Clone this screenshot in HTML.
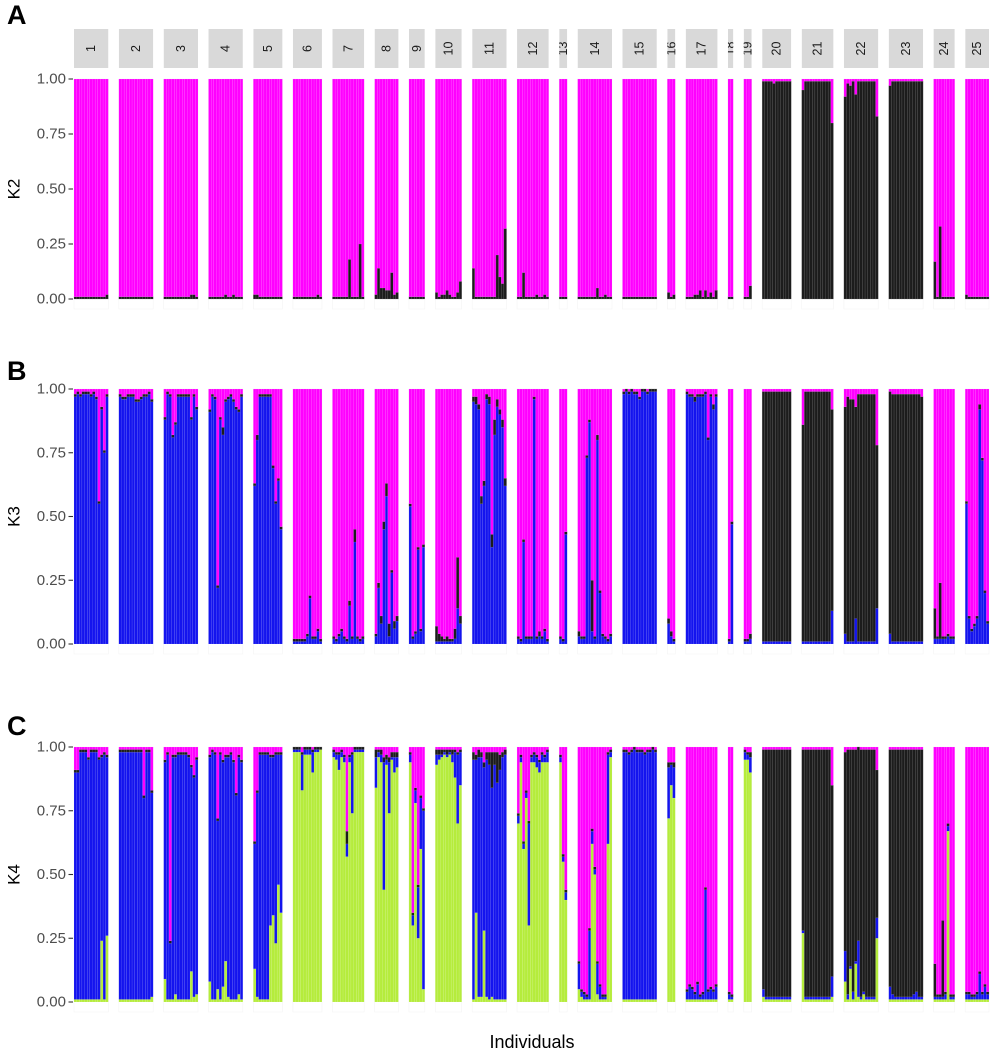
<!DOCTYPE html>
<html><head><meta charset="utf-8">
<style>
html,body{margin:0;padding:0;background:#fff;}
svg{display:block;font-family:"Liberation Sans",sans-serif;}
</style></head>
<body>
<svg id="chart" width="1000" height="1051" viewBox="0 0 1000 1051" xmlns="http://www.w3.org/2000/svg"></svg>
<script>
const pops = ["1","2","3","4","5","6","7","8","9","10","11","12","13","14","15","16","17","18","19","20","21","22","23","24","25"];
const tickValues = [0, 0.25, 0.5, 0.75, 1];
const tickLabels = ["0.00","0.25","0.50","0.75","1.00"];
const panelTitles = ["K2","K3","K4"];
const panelLetters = ["A","B","C"];

// K2: black ancestry (%) per individual, pink is the remainder
const k2Black = [
[1,1,1,1,1,1,1,1,1,1,1,1,2],[1,1,1,1,1,1,1,1,1,1,1,1,1],[1,1,1,1,1,1,1,1,1,1,2,2,1],[1,1,1,1,1,1,2,1,1,2,1,1,1],
[2,2,1,1,1,1,1,1,1,1,1],[1,1,1,1,1,1,1,1,1,2,1],[1,1,1,1,1,1,18,1,1,1,25,1],[2,14,5,5,4,4,12,2,3],
[1,1,1,1,1,1],[3,1,2,2,4,2,1,1,3,8],[14,1,1,1,1,1,1,1,1,20,10,7,32],[1,1,12,1,1,1,1,2,1,1,2,1],
[1,1,1],[1,1,1,1,1,1,1,5,1,1,2,1,1],[1,1,1,1,1,1,1,1,1,1,1,1,1],[3,1,2],
[1,1,1,2,2,4,1,4,1,3,1,4],[1,1],[1,1,6],[99,99,99,99,98,99,99,99,99,99,99],
[95,99,99,99,99,99,99,99,99,99,99,80],[92,98,97,99,93,99,99,99,99,99,99,99,83],[97,99,99,99,99,99,99,99,99,99,99,99,99],
[17,1,33,1,1,1,1,1],[2,1,1,1,1,1,1,1,1]];

// K3: blue and black ancestry (%), pink remainder
const k3Blue = [
[97,98,97,98,98,98,97,98,96,55,92,75,97],[97,96,96,97,97,97,95,95,96,97,97,98,95],[88,98,97,81,86,97,97,97,97,97,88,97,92],[91,97,96,22,88,82,95,96,97,95,92,91,97],
[62,80,97,97,97,97,97,69,55,64,45],[1,1,1,1,1,3,18,2,2,5,1],[2,1,3,5,2,1,15,2,40,2,1,2],[3,22,8,45,58,3,28,6,9],
[54,2,4,37,5,38],[1,1,1,1,1,1,1,2,14,8],[95,94,92,55,62,96,94,38,82,93,90,85,62],[2,1,40,2,2,2,96,2,3,2,5,1],
[2,1,43],[3,2,2,73,87,5,2,80,20,3,2,1,3],[98,99,98,99,98,98,96,99,99,98,99,99,99],[8,3,1],
[98,97,97,95,97,97,97,98,80,97,92,97],[1,47],[1,1,2],[1,1,1,1,1,1,1,1,1,1,1],
[1,1,1,1,1,1,1,1,1,1,1,13],[4,1,1,1,10,1,1,1,1,1,1,1,14],[4,1,1,1,1,1,1,1,1,1,1,1,1],
[2,2,2,2,2,3,2,2],[55,10,5,7,10,92,72,20,8]];
const k3Black = [
[1,1,1,1,1,1,1,1,1,1,1,1,1],[1,1,1,1,1,1,1,1,1,1,1,1,1],[1,1,1,1,1,1,1,1,1,1,1,1,1],[1,1,1,1,1,3,1,1,1,1,1,1,1],
[1,2,1,1,1,1,1,1,1,1,1],[1,1,1,1,1,1,1,1,1,1,1],[1,1,1,1,1,1,2,1,5,1,1,1],[1,2,3,3,5,5,1,3,2],
[1,1,1,1,1,1],[6,3,2,1,2,1,1,4,20,3],[2,3,2,3,2,2,3,5,6,3,2,3,3],[1,1,1,1,1,1,1,1,2,1,1,1],
[1,1,1],[2,1,1,1,1,20,1,2,1,1,1,1,1],[1,1,1,1,1,1,1,1,1,1,1,1,1],[2,2,1],
[1,1,1,2,1,1,1,1,1,1,2,1],[1,1],[1,1,2],[98,98,98,98,98,98,98,98,98,98,98],
[85,98,98,98,98,98,98,98,98,98,98,79],[89,96,95,95,83,97,97,97,97,97,97,97,64],[95,97,97,97,97,97,97,97,97,97,97,97,96],
[12,1,22,1,1,1,1,1],[1,1,1,1,1,2,1,1,1]];

// K4: green, blue, black ancestry (%), pink remainder
const k4Green = [
[1,1,1,1,1,1,1,1,1,1,24,1,26],[1,1,1,1,1,1,1,1,1,1,1,1,2],[9,1,1,1,3,1,1,1,1,1,12,2,3],[8,1,1,5,1,6,16,2,1,1,1,3,1],
[13,2,1,1,1,1,30,34,23,46,35],[98,98,98,83,97,97,97,90,98,98,99],[96,95,91,96,94,57,94,74,98,98,98,98],[84,96,94,44,93,74,95,90,92],
[94,30,78,25,60,5],[93,95,96,97,96,97,94,88,70,85],[1,35,2,2,28,2,1,2,1,1,1,1,1],[70,94,60,80,30,94,94,92,90,94,94,94],
[94,55,40],[5,2,1,1,1,62,50,3,1,1,1,62,96],[1,1,1,1,1,1,1,1,1,1,1,1,1],[72,85,80],
[1,1,1,1,1,1,1,1,1,1,1,1],[1,1],[95,95,90],[2,1,1,1,1,1,1,1,1,1,1],
[27,1,1,1,1,1,1,1,1,1,1,2],[8,1,13,1,15,2,1,3,1,1,1,1,25],[1,1,1,1,1,1,1,1,1,1,1,1,1],
[1,1,1,1,1,67,1,1],[1,1,1,1,1,1,1,1,1]];
const k4Blue = [
[89,89,97,97,97,94,97,97,97,94,72,96,70],[97,97,97,97,97,97,97,97,97,79,97,97,80],[85,96,22,95,93,96,96,96,96,95,80,86,92],[88,97,96,66,96,88,80,94,96,93,80,93,93],
[49,80,96,96,96,96,66,62,74,51,62],[1,1,1,14,2,2,2,8,1,1,0],[2,2,6,2,2,5,2,23,1,1,1,1],[12,2,3,50,2,20,1,6,4],
[3,4,5,20,20,70],[4,2,1,1,1,1,3,10,27,13],[94,60,94,94,64,93,92,82,92,85,90,95,96],[3,2,2,2,40,2,3,4,4,3,2,4],
[2,2,3],[10,2,2,1,27,5,2,12,5,1,1,35,2],[97,97,96,97,98,97,97,97,96,97,97,98,97],[20,8,12],
[3,5,4,2,6,1,2,43,3,4,3,5],[2,1],[3,2,6],[3,1,1,1,1,1,1,1,1,1,1],
[1,1,1,1,1,1,1,1,1,1,1,8],[12,2,1,3,1,22,1,1,1,1,1,1,8],[5,2,1,1,1,1,1,1,1,2,3,1,1],
[1,1,1,1,2,2,1,1],[2,2,1,1,2,10,2,5,2]];
const k4Black = [
[1,1,1,1,1,1,1,1,1,1,1,1,1],[1,1,1,1,1,1,1,1,1,1,1,1,1],[1,1,1,1,1,1,1,1,1,1,1,1,1],[1,1,1,1,1,1,1,1,1,1,1,1,1],
[1,1,1,1,1,1,1,1,1,1,1],[1,1,1,1,1,1,1,1,1,1,1],[1,1,1,1,1,5,1,1,1,1,1,1],[3,1,2,2,2,2,2,2,2],
[1,1,1,1,1,1],[2,2,2,1,2,1,2,1,1,1],[3,2,3,2,2,3,5,14,5,12,6,2,2],[1,1,1,1,1,1,1,1,1,1,1,1],
[1,1,1],[1,1,1,1,1,1,1,1,1,1,1,1,1],[1,1,1,1,1,1,1,1,1,1,1,1,1],[2,1,2],
[1,1,1,1,1,1,1,1,1,1,1,1],[1,1],[1,1,2],[94,97,97,97,97,97,97,97,97,97,97],
[71,97,97,97,97,97,97,97,97,97,97,75],[78,96,85,95,83,95,97,95,97,97,97,97,58],[93,96,97,97,97,97,97,97,97,96,95,97,97],
[13,1,1,30,1,1,1,1],[1,1,1,1,1,1,1,1,1]];

const COL = {pink:"#FF00FF", blue:"#1414EE", black:"#1C1C1C", green:"#B5EC3C"};
const panels = [
  {top:79, bottom:299, comps:[{d:k2Black,c:COL.black,n:"black"}]},
  {top:389, bottom:644, comps:[{d:k3Blue,c:COL.blue,n:"blue"},{d:k3Black,c:COL.black,n:"black"}]},
  {top:747, bottom:1002, comps:[{d:k4Green,c:COL.green,n:"green"},{d:k4Blue,c:COL.blue,n:"blue"},{d:k4Black,c:COL.black,n:"black"}]}
];
const X0 = 74, X1 = 989, GAP = 10.5;
const svg = document.getElementById('chart');
const NS = "http://www.w3.org/2000/svg";
function mk(tag, attrs, parent){ const e=document.createElementNS(NS,tag); for(const k in attrs) e.setAttribute(k,attrs[k]); (parent||svg).appendChild(e); return e; }

const counts = k2Black.map(a=>a.length);
const total = counts.reduce((a,b)=>a+b,0);
const bw = (X1 - X0 - GAP*(pops.length-1)) / total;
const facetX = []; let cx = X0;
counts.forEach(n=>{ facetX.push(cx); cx += n*bw + GAP; });

const defs = mk('defs',{});
pops.forEach((p,i)=>{
  const w = counts[i]*bw;
  const cp = mk('clipPath',{id:'sc'+i},defs);
  mk('rect',{x:facetX[i],y:29,width:w,height:39},cp);
  const g = mk('g',{'clip-path':'url(#sc'+i+')'});
  
  
  mk('rect',{x:facetX[i],y:29,width:w,height:39,fill:"#D9D9D9"},g);
  const cxm = facetX[i]+w/2;
  const t = mk('text',{x:cxm,y:48.5,transform:`rotate(-90 ${cxm} 48.5)`,'text-anchor':'middle','dominant-baseline':'central','font-size':12.5,fill:"#1A1A1A"},g);
  t.textContent = p;
});

panels.forEach((P,pi)=>{
  const yScale = v => P.bottom - (P.bottom-P.top)*v;
  const g = mk('g',{});
  
  
  pops.forEach((p,i)=>{
    mk('rect',{x:facetX[i],y:P.top,width:counts[i]*bw,height:P.bottom-P.top+10,fill:"none",stroke:"#F4F4F4","stroke-width":0.6},g);
  });
  pops.forEach((p,i)=>{
    for(let j=0;j<counts[i];j++){
      const x = facetX[i]+j*bw;
      let cum = 0;
      P.comps.forEach(c=>{
        const v = (c.d[i][j]||0)/100;
        if(v>0){
          const sc = c.n==="black" ? "rgba(120,120,120,0.6)" : "rgba(255,255,255,0.22)";
          const r = mk('rect',{x:x,y:yScale(Math.min(1,cum+v)),width:bw,height:yScale(cum)-yScale(Math.min(1,cum+v)),fill:c.c,stroke:sc,"stroke-width":0.35},g);
          
          
        }
        cum += v;
      });
      if(cum<1){
        const r = mk('rect',{x:x,y:yScale(1),width:bw,height:yScale(cum)-yScale(1),fill:COL.pink,stroke:"rgba(255,255,255,0.22)","stroke-width":0.35},g);
        
        
      }
    }
  });
  const ax = mk('g',{});
  
  
  tickValues.forEach((v,k)=>{
    const y = yScale(v);
    mk('line',{x1:68.5,x2:73,y1:y,y2:y,stroke:"#333","stroke-width":1.1},ax);
    const t = mk('text',{x:66,y:y,'text-anchor':'end','dominant-baseline':'central','font-size':15,fill:"#4D4D4D"},ax);
    t.textContent = tickLabels[k];
  });
  const ym = (P.top+P.bottom)/2;
  const tt = mk('text',{x:14,y:ym,transform:`rotate(-90 14 ${ym})`,'text-anchor':'middle','dominant-baseline':'central','font-size':17,fill:"#000"});
  
  
  tt.textContent = panelTitles[pi];
  const lt = mk('text',{x:7,y:[24,380,735][pi],'font-size':27,'font-weight':'bold',fill:"#000"});
  
  
  lt.textContent = panelLetters[pi];
});
const xt = mk('text',{x:532,y:1048,'text-anchor':'middle','font-size':18,fill:"#000"});


xt.textContent = "Individuals";
</script>
</body></html>
